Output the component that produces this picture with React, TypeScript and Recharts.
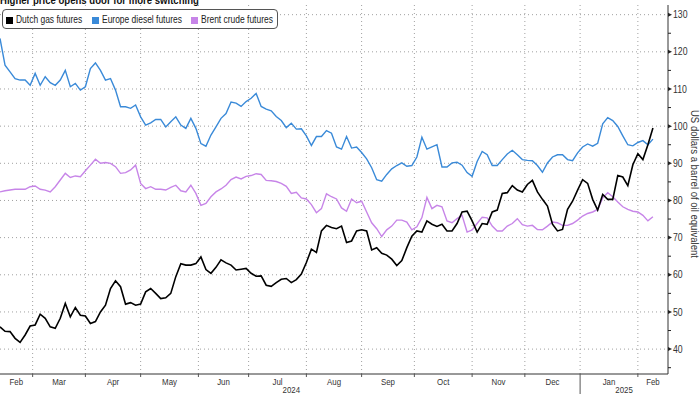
import React from 'react';
import { LineChart, Line, XAxis, YAxis, CartesianGrid } from 'recharts';

// trading-day index (every 2nd weekday) counted from 13 Feb 2024
const dayIndex: number[] = Array.from({ length: 131 }, (_, i) => i * 2);

const dutchGas = [
  46, 44.8, 44.7, 42.9, 41.8, 43.8, 46.2, 46.5, 49.4, 48.3,
  46, 45.6, 48.3, 52.3, 48.7, 51.2, 49.1, 48.9, 46.9, 47.4,
  50, 51.8, 56.3, 58.4, 56.8, 52.1, 52.5, 51.8, 52.1, 55.4,
  56.3, 55, 53.6, 53.8, 55, 59.5, 63, 62.6, 62.6, 63,
  64.8, 61.4, 60.4, 62, 64, 63.2, 62.6, 61.3, 61.5, 61.7,
  60.4, 59.6, 59.7, 57.2, 56.9, 57.9, 58.8, 59, 57.9, 58.7,
  60.2, 63.3, 66.9, 66, 71.8, 73.3, 72.7, 72.4, 73.1, 68.7,
  69.1, 71.8, 72.1, 71.8, 66.7, 67.3, 65.8, 65.3, 64.2, 62.5,
  63.8, 67.3, 70.4, 71.8, 71.5, 74.5, 73.6, 73, 73.6, 71.8,
  71.8, 73.8, 76.9, 77.1, 74.5, 71.5, 73.8, 73.6, 76.9, 77.4,
  81.9, 82.1, 84, 82.8, 82.3, 84.3, 85.4, 82.3, 80.3, 78.5,
  73.6, 71.8, 72.2, 77.6, 79.8, 82.8, 85.6, 84.6, 80.3, 77.4,
  81.6, 80.3, 80.3, 86.7, 86.3, 84, 89.6, 92.6, 91, 95,
  99.5,
];

const europeDiesel = [
  123.6, 116.4, 114.6, 112.8, 112.4, 112.4, 111, 114.2, 111, 113.3,
  111.7, 111, 112.4, 115, 110.6, 111.5, 109.7, 110.6, 115.5, 117,
  115, 112.4, 112.8, 109.7, 105.2, 105.2, 104.8, 105.7, 102.5, 100.3,
  100.9, 101.8, 101.8, 99.8, 101.2, 102.5, 100.3, 99.4, 102.1, 99.4,
  95.3, 94.6, 97.6, 99.8, 102.1, 103.4, 106.5, 106.2, 105.3, 106.6,
  107.5, 108.8, 105.3, 104.6, 104.1, 102.6, 101.5, 99.6, 100.8, 99.2,
  99.3, 97.4, 94.8, 97.2, 97.2, 98.8, 98.1, 94.4, 93.8, 97.2,
  94.1, 94.4, 92.9, 91.2, 88.8, 85.6, 85.2, 87, 88.5, 89.4,
  90.1, 89.2, 89.4, 91.7, 97, 93.8, 94.4, 95, 89, 89,
  90.1, 90.3, 89.5, 87.5, 86.5, 90.5, 93.2, 92.3, 89.4, 89.4,
  91, 92.5, 93.5, 92.3, 91, 90.8, 90.7, 89.4, 87.6, 90.1,
  91.7, 92.3, 92.3, 91, 90.7, 92.8, 94.4, 95.2, 94.6, 95.4,
  100.6, 102.3, 101.5, 99.9, 97.4, 95, 94.7, 95.6, 96.1, 95,
  96.5,
];

const brentCrude = [
  82.3, 82.6, 82.8, 83, 83, 83, 83.7, 83.9, 83, 82.8,
  82.3, 83.7, 85.5, 87.3, 86.2, 86.6, 86.4, 88, 89.5, 91.1,
  90, 90.2, 90, 89.1, 87.3, 87.5, 88.2, 89.5, 84.6, 83.2,
  83.7, 83, 83, 82.8, 83.5, 84.1, 82.6, 82.3, 84.1, 81.9,
  78.7, 79.2, 81, 82.3, 83.1, 84.1, 85.6, 86.3, 85.8, 86.5,
  86.7, 87.2, 87, 85.4, 85.3, 85.1, 84.6, 83.8, 81.9, 82.2,
  80.7, 80.4, 78.9, 76.7, 77.8, 81.8, 81, 80.4, 78, 77.1,
  80.4, 79.4, 79.8, 76.9, 74, 72.4, 70.3, 72.1, 73.1, 74.7,
  74.7, 74.2, 72.1, 72.9, 75.4, 80.8, 77.8, 78.7, 78.3, 74.5,
  74, 75.1, 76, 71.5, 72.1, 73.8, 75.5, 75.3, 73.1, 71.8,
  71.8, 73.1, 73.8, 75.1, 73.5, 73.1, 73.3, 72.2, 72.1, 73.1,
  74.2, 74, 73.3, 73.3, 73.8, 74.7, 75.8, 76.5, 76.9, 77.6,
  80.7, 82.1, 81, 79.6, 78.3, 77.6, 77.1, 76.9, 76, 74.5,
  75.6,
];

const seriesNames = ['Dutch gas futures', 'Europe diesel futures', 'Brent crude futures'];
const seriesColors = ['#000000', '#3a8ad8', '#c785e8'];

const monthStarts = [13, 34, 56, 79, 99, 122, 144, 165, 188, 209, 231, 254];
const monthLabels = ['Feb', 'Mar', 'Apr', 'May', 'Jun', 'Jul', 'Aug', 'Sep', 'Oct', 'Nov', 'Dec', 'Jan', 'Feb'];
const monthLabelPos = [6.5, 23.5, 45, 67.5, 89, 110.5, 133, 154.5, 176.5, 198.5, 220, 242.5, 260];
const yearLabels = ['2024', '2025'];
const yearLabelPos = [116, 248.5];
const yearBreak = 231;

const yGridValues = [40, 50, 60, 70, 80, 90, 100, 110, 120, 130];
const yTicks = [35, 40, 45, 50, 55, 60, 65, 70, 75, 80, 85, 90, 95, 100, 105, 110, 115, 120, 125, 130];

const titleText = 'Higher price opens door for more switching';
const yAxisTitle = 'US dollars a barrel of oil equivalent';

const FONT = "'Liberation Sans', Arial, sans-serif";
const SQUEEZE = 0.83;

const data = dayIndex.map((d, i) => ({
  d,
  gas: dutchGas[i],
  diesel: europeDiesel[i],
  brent: brentCrude[i],
}));

const xTicks = [...monthStarts, ...monthLabelPos, ...yearLabelPos];

function NarrowText({ x, y, size, anchor, children }: any) {
  return (
    <text
      transform={`translate(${x},${y}) scale(${SQUEEZE},1)`}
      x={0}
      y={0}
      textAnchor={anchor}
      fontSize={size}
      fill="#333"
      fontFamily={FONT}
    >
      {children}
    </text>
  );
}

function XTick(props: any) {
  const { x, y, payload } = props;
  const v = payload.value;
  const mi = monthLabelPos.indexOf(v);
  const yi = yearLabelPos.indexOf(v);
  const isStart = monthStarts.indexOf(v) >= 0;
  return (
    <g>
      {isStart && (
        <line x1={x} y1={y} x2={x} y2={v === yearBreak ? y + 20 : y + 3} stroke="#555" strokeWidth={1} />
      )}
      {mi >= 0 && (
        <NarrowText x={x} y={y + 10.5} size={9.5} anchor="middle">
          {monthLabels[mi]}
        </NarrowText>
      )}
      {yi >= 0 && (
        <NarrowText x={x} y={y + 18.8} size={9.5} anchor="middle">
          {yearLabels[yi]}
        </NarrowText>
      )}
    </g>
  );
}

function YTick(props: any) {
  const { x, y, payload } = props;
  const v = payload.value;
  const major = v % 10 === 0;
  return (
    <g>
      {major ? (
        <path d={`M${x},${y - 2} L${x + 4},${y} L${x},${y + 2} Z`} fill="#222" />
      ) : (
        <line x1={x} y1={y} x2={x + 3} y2={y} stroke="#222" strokeWidth={1} />
      )}
      {major && (
        <NarrowText x={x + 5} y={y + 3.6} size={10.5} anchor="start">
          {v}
        </NarrowText>
      )}
    </g>
  );
}

const legendSquares = [6, 92, 191];
const legendTexts = [16, 102, 201];

export default function App() {
  return (
    <div
      style={{
        position: 'absolute',
        left: 0,
        top: 0,
        width: 700,
        height: 394,
        background: '#fff',
        overflow: 'hidden',
        fontFamily: FONT,
      }}
    >
      <LineChart width={700} height={394} data={data} margin={{ top: 5, right: 0, bottom: 0, left: 0 }}>
        <CartesianGrid
          horizontalValues={yGridValues}
          verticalValues={monthStarts}
          stroke="#a0a0a0"
          strokeDasharray="1 3"
        />
        <XAxis
          dataKey="d"
          type="number"
          domain={[0, 266]}
          ticks={xTicks}
          interval={0}
          tickSize={0}
          tickMargin={0}
          tickLine={false}
          height={20}
          axisLine={{ stroke: '#333' }}
          tick={<XTick />}
          allowDataOverflow
        />
        <YAxis
          orientation="right"
          type="number"
          domain={[33.3, 132.6]}
          ticks={yTicks}
          interval={0}
          tickSize={0}
          tickMargin={0}
          tickLine={false}
          width={32}
          axisLine={{ stroke: '#333' }}
          tick={<YTick />}
          allowDataOverflow
        />
        <Line dataKey="brent" stroke={seriesColors[2]} strokeWidth={1.4} dot={false} isAnimationActive={false} />
        <Line dataKey="diesel" stroke={seriesColors[1]} strokeWidth={1.4} dot={false} isAnimationActive={false} />
        <Line dataKey="gas" stroke={seriesColors[0]} strokeWidth={1.6} dot={false} isAnimationActive={false} />
      </LineChart>

      <div
        style={{
          position: 'absolute',
          left: 0,
          top: -5,
          fontSize: 11,
          lineHeight: '11px',
          fontWeight: 'bold',
          color: '#111',
          whiteSpace: 'nowrap',
          transform: 'scaleX(0.87)',
          transformOrigin: '0 0',
        }}
      >
        {titleText}
      </div>

      <div
        style={{
          position: 'absolute',
          left: 2,
          top: 9,
          width: 276,
          height: 20,
          border: '1px solid #555',
          borderRadius: 4,
          background: '#fff',
          boxSizing: 'border-box',
        }}
      />
      {seriesNames.map((name, i) => (
        <React.Fragment key={name}>
          <div
            style={{
              position: 'absolute',
              left: legendSquares[i],
              top: 16.5,
              width: 7,
              height: 7,
              background: seriesColors[i],
            }}
          />
          <div
            style={{
              position: 'absolute',
              left: legendTexts[i],
              top: 14,
              fontSize: 10.2,
              lineHeight: '12px',
              color: '#222',
              whiteSpace: 'nowrap',
              transform: `scaleX(${SQUEEZE})`,
              transformOrigin: '0 0',
            }}
          >
            {name}
          </div>
        </React.Fragment>
      ))}

      <div
        style={{
          position: 'absolute',
          left: 695,
          top: 184,
          transform: `translate(-50%, -50%) rotate(90deg) scaleX(${SQUEEZE})`,
          fontSize: 11.5,
          lineHeight: '12px',
          color: '#333',
          whiteSpace: 'nowrap',
        }}
      >
        {yAxisTitle}
      </div>
    </div>
  );
}
